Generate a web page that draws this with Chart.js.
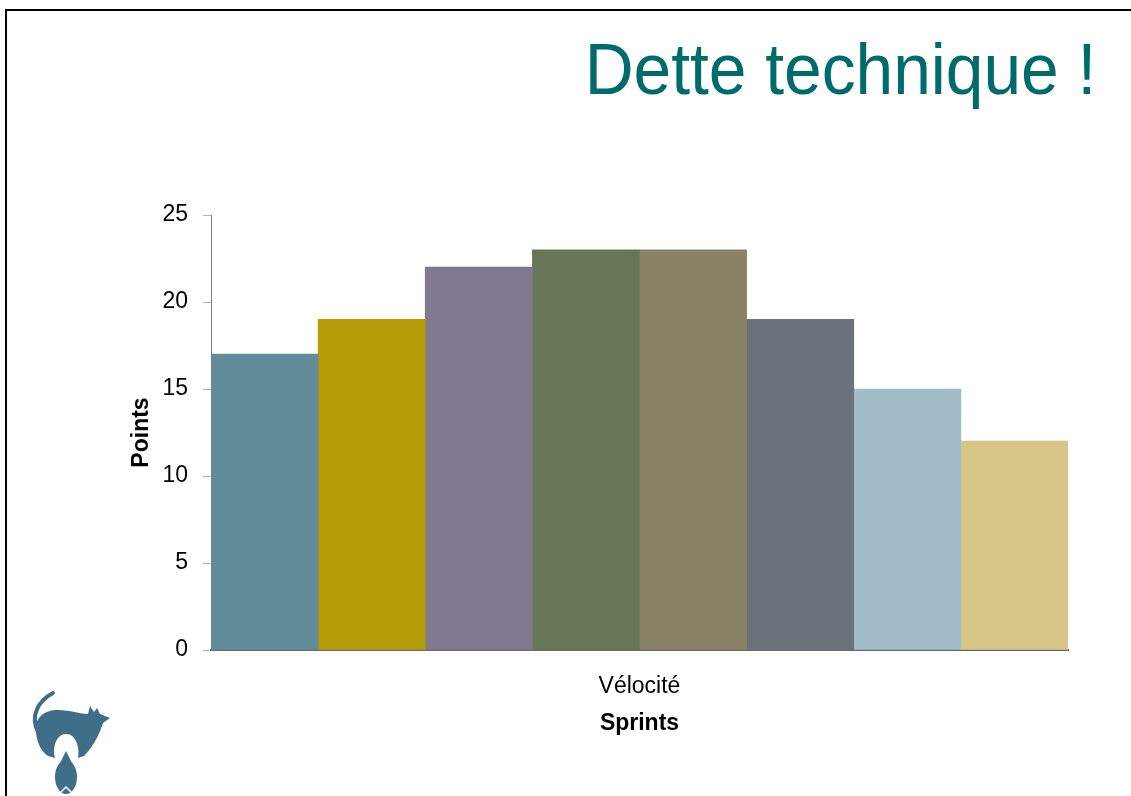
<!DOCTYPE html>
<html>
<head>
<meta charset="utf-8">
<script src="https://cdn.jsdelivr.net/npm/chart.js@4"></script>
<style>
  html, body { margin: 0; padding: 0; background: #fff; }
  body { width: 1131px; height: 796px; position: relative; overflow: hidden; font-family: "Liberation Sans", Arial, sans-serif; }
  .frame { position: absolute; left: 5px; top: 9px; width: 1200px; height: 900px; border-top: 2px solid #000; border-left: 2px solid #000; }
  .title { position: absolute; right: 35px; top: 28px; font-size: 72px; color: #006b6b; white-space: nowrap;
           transform: scaleX(0.94); transform-origin: right top; }
  #chartBox { position: absolute; left: 0; top: 0; width: 1131px; height: 796px; }
  .logo { position: absolute; left: 0; top: 670px; }
</style>
</head>
<body>
<div class="frame"></div>
<div class="title">Dette technique !</div>
<div id="chartBox"><canvas id="velocityChart" width="1131" height="796"></canvas></div>
<svg class="logo" width="140" height="126" viewBox="0 0 140 126">
  <!-- chat sur la bombe, dessin approximatif -->
  <path d="M38,62 C30,46 38,31 53,23" stroke="#3f6f88" stroke-width="4" fill="none" stroke-linecap="round"/>
  <path d="M36,62 C34,48 44,40 58,40 C70,40 80,44 88,44 L90,36 L94,42 L97,38 L100,44 L110,48 L103,53
           C100,62 95,75 84,86 L78,88 C80,78 76,64 66,64 C57,64 52,76 55,88 L48,86 C40,80 37,72 36,62 Z" fill="#3f6f88"/>
  <path d="M60,93 L66,81 L72,93 Z" fill="#3f6f88"/>
  <ellipse cx="66" cy="107" rx="11" ry="17" fill="#3f6f88"/>
  <path d="M60,123 L66,117 L72,123" stroke="#fff" stroke-width="1.5" fill="none"/>
</svg>
<script>
// valeurs
const categories = ['Vélocité'];
const sprintLabels = ['Sprint 1', 'Sprint 2', 'Sprint 3', 'Sprint 4', 'Sprint 5', 'Sprint 6', 'Sprint 7', 'Sprint 8'];
const sprintPoints = [17, 19, 22, 23, 23, 19, 15, 12];
const sprintColors = ['#628c9a', '#b59d0a', '#7e798e', '#677656', '#8a8366', '#6c727c', '#a3bdc8', '#d8c686'];
const yTicks = [0, 5, 10, 15, 20, 25];

const fontFamily = '"Liberation Sans", Arial, sans-serif';
const axisGrey = '#808080';

const datasets = sprintLabels.map((label, i) => ({
  label: label,
  data: [sprintPoints[i]],
  backgroundColor: sprintColors[i],
  borderWidth: 0,
  categoryPercentage: 1.0,
  barPercentage: 1.0,
}));

const ctx = document.getElementById('velocityChart').getContext('2d');
new Chart(ctx, {
  type: 'bar',
  data: { labels: categories, datasets: datasets },
  options: {
    responsive: false,
    animation: false,
    layout: { padding: { left: 124, top: 215, right: 63, bottom: 55 } },
    plugins: { legend: { display: false }, tooltip: { enabled: false } },
    scales: {
      x: {
        grid: { display: false, drawTicks: false },
        border: { display: true, color: '#6b6b6b', width: 2 },
        ticks: { color: '#000', padding: 23, font: { family: fontFamily, size: 23 } },
        title: { display: true, text: 'Sprints', color: '#000', font: { family: fontFamily, size: 23, weight: 'bold' } },
        afterFit: (scale) => { scale.height = 91; },
      },
      y: {
        min: 0,
        max: 25,
        afterBuildTicks: (scale) => { scale.ticks = yTicks.map(v => ({ value: v })); },
        grid: { display: true, drawOnChartArea: false, drawTicks: true, tickLength: 8, color: '#b0b0b0' },
        border: { display: true, color: axisGrey, width: 1 },
        ticks: { color: '#000', padding: 15, font: { family: fontFamily, size: 23 } },
        title: { display: true, text: 'Points', color: '#000', font: { family: fontFamily, size: 23, weight: 'bold' } },
        afterFit: (scale) => { scale.width = 87; },
      },
    },
  },
});
</script>
</body>
</html>
